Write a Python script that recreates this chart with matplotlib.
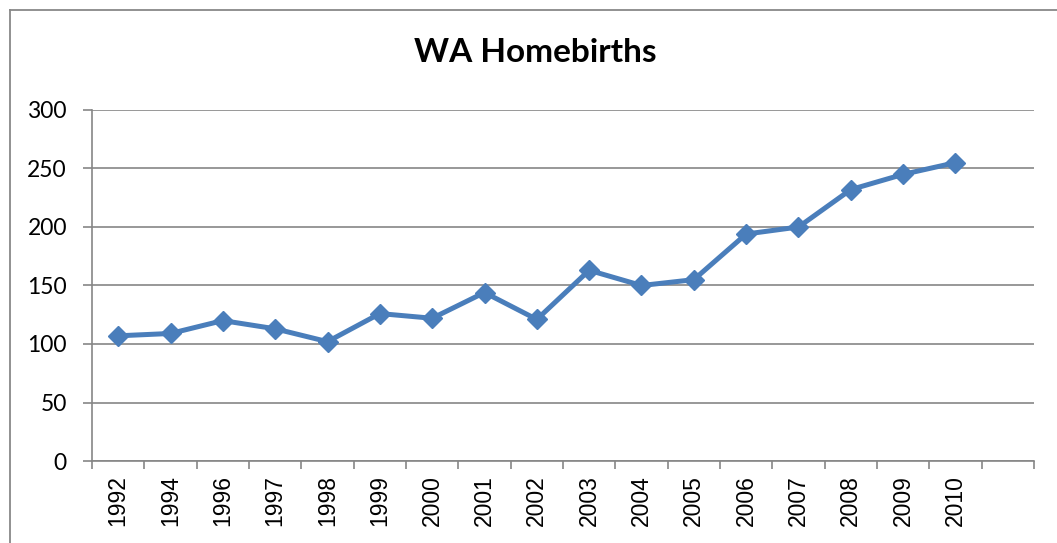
import matplotlib
matplotlib.use("Agg")
import matplotlib.pyplot as plt
from matplotlib.lines import Line2D
from matplotlib import font_manager as fm
import numpy as np

years = ["1992", "1994", "1996", "1997", "1998", "1999", "2000", "2001", "2002",
         "2003", "2004", "2005", "2006", "2007", "2008", "2009", "2010"]
births = [107, 109, 120, 113, 102, 126, 122, 144, 121,
          163, 150, 155, 194, 200, 232, 245, 255]
y_ticks = [0, 50, 100, 150, 200, 250, 300]
title = "WA Homebirths"
n_slots = 18

names = {f.name for f in fm.fontManager.ttflist}
narrow = "Liberation Sans Narrow" in names
xfont = "Liberation Sans Narrow" if narrow else "Liberation Sans"
xsize = 18.5 if narrow else 16.5

W, H = 1057, 543
fig = plt.figure(figsize=(W / 100, H / 100), dpi=100)
fig.patch.set_facecolor("white")

ax = fig.add_axes([92 / W, (H - 461) / H, (1034 - 92) / W, (461 - 110) / H])
x = np.arange(len(years))
ax.plot(x, births, color="#4A7EBB", lw=3.6, marker="D", ms=10,
        markerfacecolor="#4A7EBB", markeredgecolor="#4A7EBB", zorder=3)

ax.set_xlim(-0.5, n_slots - 0.5)
ax.set_ylim(0, 300)
ax.set_yticks(y_ticks)
ax.set_yticklabels([str(v) for v in y_ticks], fontfamily="Lato", fontsize=16.5)
ax.yaxis.grid(True, color="#868686", lw=1.2)
ax.set_axisbelow(True)

ax.set_xticks(np.arange(n_slots + 1) - 0.5)
ax.set_xticklabels([])
ax.set_xticks(x, minor=True)
ax.set_xticklabels(years, minor=True, rotation=90, fontfamily=xfont, fontsize=xsize)
ax.tick_params(axis="x", which="minor", length=0, pad=10)
ax.tick_params(axis="x", which="major", length=5.5, width=1.2, color="#868686")
ax.tick_params(axis="y", length=6.5, width=1.2, color="#868686", pad=11.5)

for s in ["top", "right"]:
    ax.spines[s].set_visible(False)
for s in ["left", "bottom"]:
    ax.spines[s].set_color("#868686")
    ax.spines[s].set_linewidth(1.2)

fig.text(535 / W, 1 - 53 / H, title, ha="center", va="center",
         fontfamily="Lato", fontweight="bold", fontsize=24)

# outer chart frame (left and top edges visible)
fig.add_artist(Line2D([9.5 / W, 9.5 / W], [0, 1 - 10 / H], transform=fig.transFigure,
                      color="#888888", lw=1.3))
fig.add_artist(Line2D([9.5 / W, 1], [1 - 10 / H, 1 - 10 / H], transform=fig.transFigure,
                      color="#888888", lw=1.3))

fig.savefig("out.png", dpi=100, facecolor="white")
